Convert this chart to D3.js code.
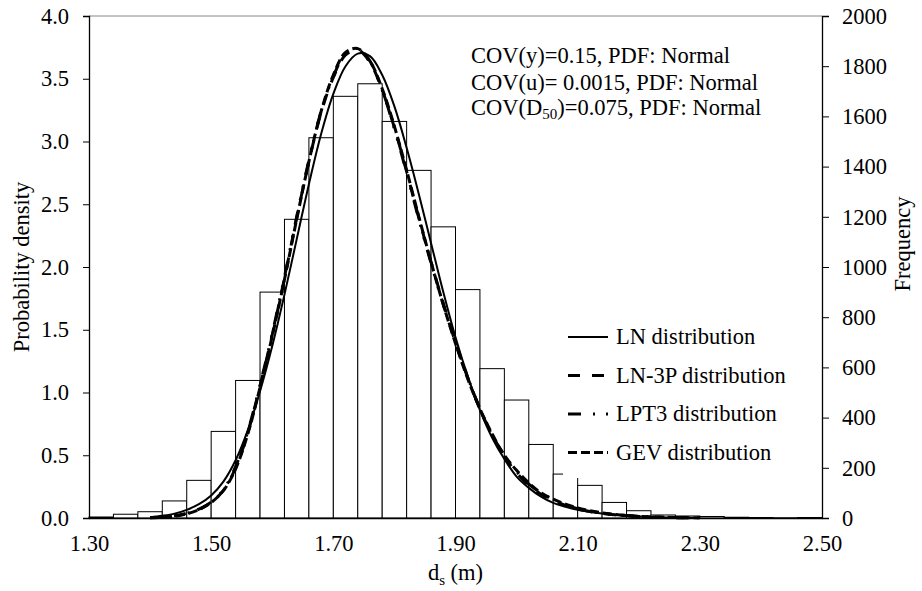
<!DOCTYPE html>
<html>
<head>
<meta charset="utf-8">
<script src="https://d3js.org/d3.v7.min.js"></script>
<style>
  body { margin: 0; background: #fff; }
  text { font-family: "Liberation Serif", "Times New Roman", serif; fill: #000; }
</style>
</head>
<body>
<div id="container"></div>
<script>
// histogram bins (left edge, width 0.04) and frequency counts
var binStart = [1.30,1.34,1.38,1.42,1.46,1.50,1.54,1.58,1.62,1.66,1.70,1.74,1.78,1.82,1.86,1.90,
                1.94,1.98,2.02,2.06,2.10,2.14,2.18,2.22,2.26,2.30,2.34,2.38,2.42,2.46];
var binFreq = [4,15,25,68,150,345,548,900,1190,1515,1680,1730,1580,1385,1160,910,
               595,470,293,175,130,62,29,12,8,6,3,2,1,2];
var binWidth = 0.04;

// fitted pdf curves
var ds = [1.40,1.42,1.44,1.46,1.48,1.50,1.52,1.54,1.56,1.58,1.60,1.62,1.64,1.66,1.68,1.70,
          1.72,1.74,1.76,1.78,1.80,1.82,1.84,1.86,1.88,1.90,1.92,1.94,1.96,1.98,2.00,2.02,
          2.04,2.06,2.08,2.10,2.12,2.14,2.16,2.18,2.20,2.22,2.24,2.26,2.28,2.30];
var pdfLN = [0.006,0.018,0.035,0.065,0.11,0.18,0.29,0.46,0.70,1.01,1.37,1.78,2.22,2.66,3.06,3.38,
             3.60,3.70,3.68,3.53,3.28,2.95,2.58,2.19,1.80,1.44,1.13,0.86,0.64,0.47,0.33,0.24,
             0.17,0.12,0.09,0.065,0.048,0.035,0.025,0.018,0.012,0.008,0.005,0.003,0.002,0.001];
var pdfLN3P = [0.003,0.008,0.018,0.038,0.07,0.125,0.22,0.40,0.68,1.05,1.46,1.91,2.39,2.84,3.23,3.51,
               3.69,3.73,3.63,3.41,3.11,2.76,2.39,2.04,1.71,1.40,1.12,0.87,0.66,0.49,0.36,0.26,
               0.19,0.14,0.10,0.072,0.052,0.037,0.026,0.018,0.012,0.008,0.005,0.003,0.002,0.001];
var pdfLPT3 = [0.002,0.007,0.017,0.037,0.07,0.127,0.225,0.41,0.69,1.06,1.47,1.92,2.40,2.85,3.24,3.52,
               3.70,3.74,3.64,3.41,3.10,2.75,2.38,2.03,1.70,1.40,1.12,0.87,0.66,0.50,0.37,0.27,
               0.20,0.145,0.105,0.075,0.054,0.038,0.027,0.019,0.013,0.008,0.005,0.003,0.002,0.001];
var pdfGEV = [0.001,0.005,0.014,0.033,0.066,0.123,0.218,0.39,0.67,1.04,1.45,1.90,2.38,2.84,3.24,3.53,
              3.71,3.74,3.64,3.42,3.12,2.77,2.40,2.04,1.70,1.39,1.11,0.87,0.67,0.50,0.38,0.28,
              0.20,0.15,0.11,0.08,0.058,0.041,0.029,0.020,0.014,0.009,0.006,0.004,0.002,0.001];

var xTicks = [1.30,1.50,1.70,1.90,2.10,2.30,2.50];
var yTicks = [0,0.5,1.0,1.5,2.0,2.5,3.0,3.5,4.0];
var fTicks = [0,200,400,600,800,1000,1200,1400,1600,1800,2000];

var seriesNames = ["LN distribution","LN-3P distribution","LPT3 distribution","GEV distribution"];
var seriesData = [pdfLN, pdfLN3P, pdfLPT3, pdfGEV];
var seriesDash = [null, "12,12", "13,12,2,11,2,11", "9,4"];
var seriesWidth = [2, 3, 3, 3];

var fs = "22.5px";

var margin = {top: 16, right: 100, bottom: 73, left: 89},
    width = 922 - margin.left - margin.right,
    height = 591 - margin.top - margin.bottom;

var svg = d3.select("#container")
  .append("svg")
    .attr("width", 922)
    .attr("height", 591)
  .append("g")
    .attr("transform", "translate(" + margin.left + "," + margin.top + ")");

var x = d3.scaleLinear().domain([1.30, 2.50]).range([0, width]);
var y = d3.scaleLinear().domain([0, 4.0]).range([height, 0]);
var yf = d3.scaleLinear().domain([0, 2000]).range([height, 0]);

// bars (frequency, right axis)
svg.append("g")
  .selectAll("rect")
  .data(binStart.map(function(b, i) { return {x0: b, f: binFreq[i]}; }))
  .enter()
  .append("rect")
    .attr("x", d => x(d.x0))
    .attr("y", d => yf(d.f))
    .attr("width", d => x(d.x0 + binWidth) - x(d.x0))
    .attr("height", d => height - yf(d.f))
    .style("fill", "#fff")
    .style("stroke", "#000")
    .style("stroke-width", 1);

// pdf curves (left axis)
var line = d3.line()
  .x((d, i) => x(ds[i]))
  .y(d => y(d))
  .curve(d3.curveCatmullRom);

for (let i = 3; i >= 0; i--) {
  svg.append("path")
    .datum(seriesData[i])
    .attr("d", line)
    .style("fill", "none")
    .style("stroke", "#000")
    .style("stroke-width", seriesWidth[i])
    .style("stroke-dasharray", seriesDash[i]);
}

// top border
svg.append("line")
  .attr("x1", 0).attr("x2", width)
  .attr("y1", 0).attr("y2", 0)
  .style("stroke", "#888")
  .style("stroke-width", 1);

// axes
var xAxis = svg.append("g")
  .attr("transform", "translate(0," + height + ")")
  .call(d3.axisBottom(x).tickValues(xTicks).tickFormat(d3.format(".2f")).tickSize(0).tickPadding(17));

var yAxis = svg.append("g")
  .call(d3.axisLeft(y).tickValues(yTicks).tickFormat(d3.format(".1f")).tickSize(6).tickPadding(14));

var fAxis = svg.append("g")
  .attr("transform", "translate(" + width + ",0)")
  .call(d3.axisRight(yf).tickValues(fTicks).tickFormat(d3.format("d")).tickSize(7).tickPadding(13));

[xAxis, yAxis, fAxis].forEach(function(a) {
  a.select(".domain").style("stroke", "#000").style("stroke-width", 1.3);
  a.selectAll(".tick line").style("stroke", "#000");
  a.selectAll("text")
    .style("font-family", "'Liberation Serif', serif")
    .style("font-size", fs)
    .style("fill", "#000");
});

// axis titles
var xt = svg.append("text")
  .attr("x", width / 2)
  .attr("y", 564)
  .attr("text-anchor", "middle")
  .style("font-size", fs);
xt.append("tspan").text("d");
xt.append("tspan").attr("dy", 5).style("font-size", "15px").text("s");
xt.append("tspan").attr("dy", -5).text(" (m)");

svg.append("text")
  .attr("transform", "rotate(-90)")
  .attr("x", -251)
  .attr("y", -60)
  .attr("text-anchor", "middle")
  .style("font-size", fs)
  .text("Probability density");

svg.append("text")
  .attr("transform", "rotate(-90)")
  .attr("x", -228)
  .attr("y", 821)
  .attr("text-anchor", "middle")
  .style("font-size", fs)
  .text("Frequency");

// annotation
var notes = svg.append("g").attr("transform", "translate(382,0)");
notes.append("text").attr("y", 47).style("font-size", fs).text("COV(y)=0.15, PDF: Normal");
notes.append("text").attr("y", 74).style("font-size", fs).text("COV(u)= 0.0015, PDF: Normal");
var n3 = notes.append("text").attr("y", 99).style("font-size", fs);
n3.append("tspan").text("COV(D");
n3.append("tspan").attr("dy", 4).style("font-size", "15px").text("50");
n3.append("tspan").attr("dy", -4).text(")=0.075, PDF: Normal");

// legend
var legend = svg.append("g").attr("transform", "translate(474,304)");
legend.append("rect")
  .attr("x", 0).attr("y", 0)
  .attr("width", 240).attr("height", 158)
  .style("fill", "#fff");

seriesNames.forEach(function(name, i) {
  var ly = 17 + i * 38.5;
  legend.append("line")
    .attr("x1", 5).attr("x2", 45)
    .attr("y1", ly).attr("y2", ly)
    .style("stroke", "#000")
    .style("stroke-width", seriesWidth[i])
    .style("stroke-dasharray", seriesDash[i]);
  legend.append("text")
    .attr("x", 53)
    .attr("y", ly + 7)
    .style("font-size", fs)
    .text(name);
});
</script>
</body>
</html>
